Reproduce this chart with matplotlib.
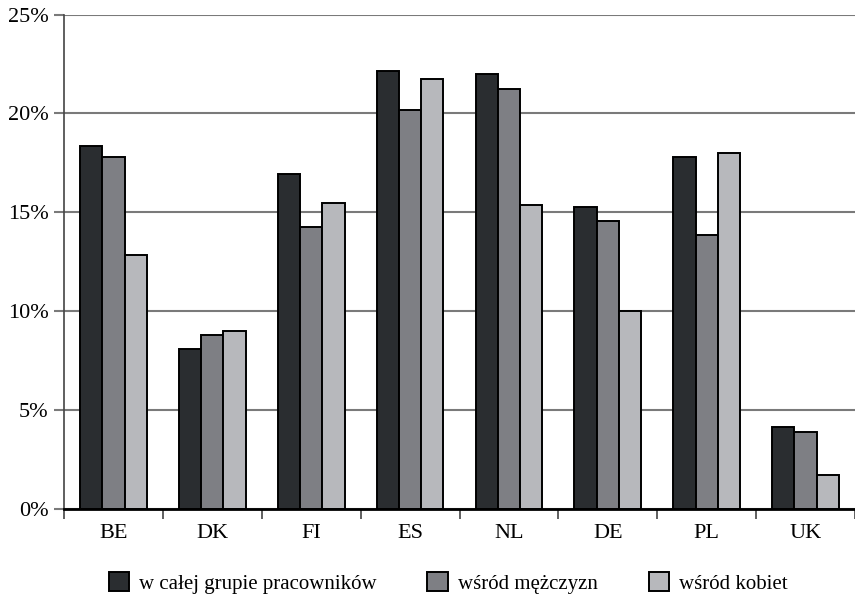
import matplotlib

matplotlib.use("Agg")
import matplotlib.pyplot as plt
import numpy as np
from matplotlib.ticker import FixedLocator, PercentFormatter

countries = ["BE", "DK", "FI", "ES", "NL", "DE", "PL", "UK"]
all_workers = [18.33, 8.08, 16.91, 22.16, 21.98, 15.27, 17.82, 4.14]
men = [17.82, 8.79, 14.26, 20.15, 21.25, 14.58, 13.84, 3.86]
women = [12.84, 8.99, 15.48, 21.76, 15.39, 10.00, 18.02, 1.70]
series_labels = ["w całej grupie pracowników", "wśród mężczyzn", "wśród kobiet"]
yticks = [0, 5, 10, 15, 20, 25]

colors = ["#2a2d30", "#7e7f84", "#b7b8bc"]

plt.rcParams["font.family"] = ["Liberation Serif", "DejaVu Serif"]

fig = plt.figure(figsize=(8.55, 5.99), dpi=100)
ax = fig.add_axes([0.0749, 0.151, 0.9251, 0.8245])

x = np.arange(len(countries))
width = 0.225
for k, (vals, col, lab) in enumerate(zip([all_workers, men, women], colors, series_labels)):
    ax.bar(x + (k - 1) * width, vals, width, color=col, edgecolor="black",
           linewidth=1.4, label=lab, zorder=3)

ax.set_xlim(-0.5, len(countries) - 0.5)
ax.set_ylim(0, 25)
ax.set_yticks(yticks)
ax.yaxis.set_major_formatter(PercentFormatter(decimals=0))
ax.grid(axis="y", color="#7a7a7a", linewidth=1.5, zorder=0)

ax.set_xticks(x)
ax.set_xticklabels(countries)
ax.xaxis.set_minor_locator(FixedLocator(np.arange(-0.5, len(countries), 1.0)))
ax.tick_params(axis="x", which="major", length=0, pad=11, labelsize=16)
ax.tick_params(axis="x", which="minor", length=7, width=1.2, color="#444444")
ax.tick_params(axis="y", length=7, width=1.5, color="#7a7a7a", labelsize=16, pad=4)

for side in ("top", "right"):
    ax.spines[side].set_visible(False)
ax.spines["left"].set_color("#444444")
ax.spines["left"].set_linewidth(1.2)
ax.spines["bottom"].set_color("black")
ax.spines["bottom"].set_linewidth(2)
ax.spines["bottom"].set_zorder(4)

fig.legend(loc="center", bbox_to_anchor=(0.524, 0.027), ncol=3, frameon=False,
           fontsize=15, handlelength=1.0, handleheight=1.0, handletextpad=0.45,
           columnspacing=2.45)

fig.savefig("out.png", dpi=100)
